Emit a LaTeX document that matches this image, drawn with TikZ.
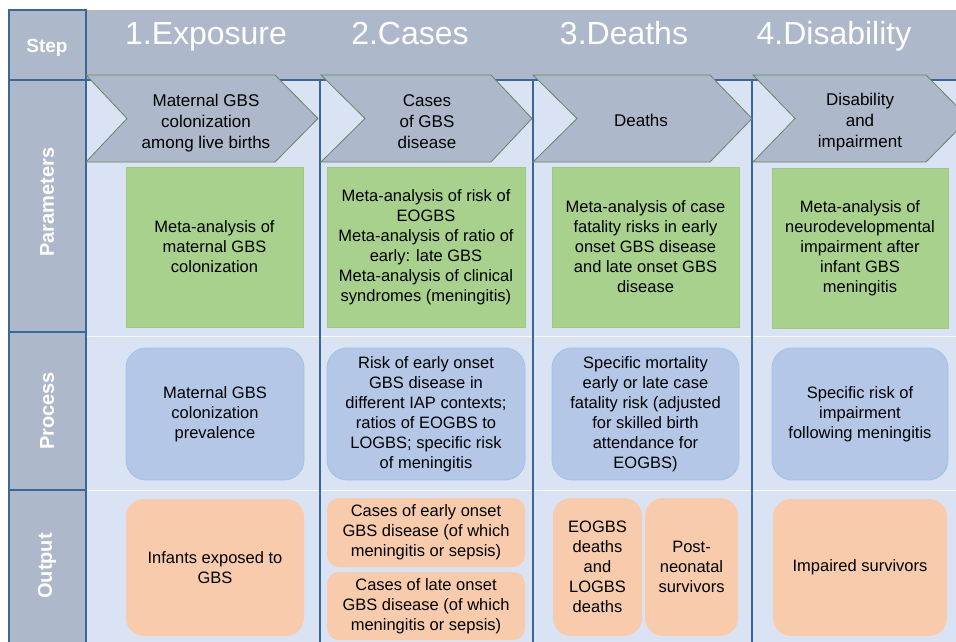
\documentclass[tikz,border=0pt]{standalone}
\usepackage{fontspec}
\setmainfont{Liberation Sans}
\definecolor{hdrgray}{HTML}{ADB9CA}
\definecolor{cellblue}{HTML}{DAE3F3}
\definecolor{darkline}{HTML}{3A6896}
\definecolor{chevline}{HTML}{6A8468}
\definecolor{greenfill}{HTML}{A9D18E}
\definecolor{greenline}{HTML}{9CCB7E}
\definecolor{bluefill}{HTML}{B4C7E7}
\definecolor{blueline}{HTML}{9DC3E6}
\definecolor{orangefill}{HTML}{F8CBAD}
\tikzset{
  bodytxt/.style={font=\fontsize{16.5}{20}\selectfont, align=center, text=black, inner sep=0pt},
  chevtxt/.style={font=\fontsize{17}{21}\selectfont, align=center, text=black, inner sep=0pt},
  greenbox/.style={bodytxt, draw=greenline, fill=greenfill, line width=0.8pt},
  bluebox/.style={bodytxt, draw=blueline, fill=bluefill, rounded corners=20pt, line width=0.8pt},
  orangebox/.style={bodytxt, fill=orangefill, rounded corners=18pt},
  smallorange/.style={bodytxt, fill=orangefill, rounded corners=12pt},
  rowlabel/.style={font=\bfseries\fontsize{20}{24}\selectfont, text=white, rotate=90, inner sep=0pt},
  steplabel/.style={font=\bfseries\fontsize{19}{23}\selectfont, text=white, inner sep=0pt, anchor=base},
  hdrtxt/.style={font=\fontsize{32}{38}\selectfont, text=white, inner sep=0pt, anchor=base},
  chevshape/.style={fill=hdrgray, draw=chevline, line width=0.8pt, line join=miter},
  leftcell/.style={fill=hdrgray, draw=darkline, line width=1.8pt},
  colcell/.style={fill=cellblue, draw=darkline, line width=1.6pt},
}
\begin{document}
\begin{tikzpicture}[x=1pt,y=-1pt]
\useasboundingbox (0,0) rectangle (956,642);
\fill[white] (0,0) rectangle (956,642);
\begin{scope}
\clip (0,0) rectangle (956,642);
% header band
\fill[hdrgray] (86,10) rectangle (960,80);
% column cells
\draw[colcell] (86,80) rectangle (320,660);
\draw[colcell] (320,80) rectangle (533,660);
\draw[colcell] (533,80) rectangle (752,660);
\draw[colcell] (752,80) rectangle (990,660);
% faint row separators
\foreach \yy in {336,490} {
  \draw[white, line width=0.8pt, opacity=0.8] (87,\yy) -- (319,\yy);
  \draw[white, line width=0.8pt, opacity=0.8] (321,\yy) -- (532,\yy);
  \draw[white, line width=0.8pt, opacity=0.8] (534,\yy) -- (751,\yy);
  \draw[white, line width=0.8pt, opacity=0.8] (753,\yy) -- (956,\yy);
}
% left label column
\draw[leftcell] (9,10) rectangle (86,80);
\draw[leftcell] (9,80) rectangle (86,332);
\draw[leftcell] (9,332) rectangle (86,490);
\draw[leftcell] (9,490) rectangle (86,660);
\node[steplabel] (lstep) at (47,53) {Step};
\node[rowlabel] (lparam) at (47,202) {Parameters};
\node[rowlabel] (lproc) at (47,411) {Process};
\node[rowlabel] (lout) at (47,566) {Output};
% header titles
\node[hdrtxt] (h1) at (206,45) {1.Exposure};
\node[hdrtxt] (h2) at (410,45) {2.Cases};
\node[hdrtxt] (h3) at (624,45) {3.Deaths};
\node[hdrtxt] (h4) at (834,45) {4.Disability};
% chevrons
\draw[chevshape] (86,75) -- (275,75) -- (318,118.5) -- (275,162) -- (86,162) -- (127,118.5) -- cycle;
\draw[chevshape] (321,75) -- (491,75) -- (532,118.5) -- (491,162) -- (321,162) -- (365,118.5) -- cycle;
\draw[chevshape] (533,75) -- (710,75) -- (752,118.5) -- (710,162) -- (533,162) -- (577,118.5) -- cycle;
\draw[chevshape] (753,75) -- (926,75) -- (969,118.5) -- (926,162) -- (753,162) -- (795,118.5) -- cycle;
\node[chevtxt] (c1) at (206,123) {Maternal GBS\\colonization\\among live births};
\node[chevtxt] (c2) at (427,122) {Cases\\of GBS\\disease};
\node[chevtxt] (c3) at (641,120) {Deaths};
\node[chevtxt] (c4) at (860,122) {Disability\\and\\impairment};
% parameters
\node[greenbox, minimum width=177, minimum height=160] (p1) at (214.5,247) {Meta-analysis of\\maternal GBS\\colonization};
\node[greenbox, minimum width=198, minimum height=160] (p2) at (426,247) {Meta-analysis of risk of\\EOGBS\\Meta-analysis of ratio of\\early: late GBS\\Meta-analysis of clinical\\syndromes (meningitis)};
\node[greenbox, minimum width=187, minimum height=160] (p3) at (645.5,247) {Meta-analysis of case\\fatality risks in early\\onset GBS disease\\and late onset GBS\\disease};
\node[greenbox, minimum width=176, minimum height=160] (p4) at (860,248) {Meta-analysis of\\neurodevelopmental\\impairment after\\infant GBS\\meningitis};
% process
\node[bluebox, minimum width=178, minimum height=132] (b1) at (215,414) {Maternal GBS\\colonization\\prevalence};
\node[bluebox, minimum width=198, minimum height=132] (b2) at (426,414) {Risk of early onset\\GBS disease in\\different IAP contexts;\\ratios of EOGBS to\\LOGBS; specific risk\\of meningitis};
\node[bluebox, minimum width=187, minimum height=132] (b3) at (645.5,414) {Specific mortality\\early or late case\\fatality risk (adjusted\\for skilled birth\\attendance for\\EOGBS)};
\node[bluebox, minimum width=176, minimum height=132] (b4) at (860,414) {Specific risk of\\impairment\\following meningitis};
% output
\node[orangebox, minimum width=178, minimum height=137] (o1) at (215,567.5) {Infants exposed to\\GBS};
\node[smallorange, minimum width=198, minimum height=69] (o2a) at (426,532.5) {Cases of early onset\\GBS disease (of which\\meningitis or sepsis)};
\node[smallorange, minimum width=198, minimum height=68] (o2b) at (426,606) {Cases of late onset\\GBS disease (of which\\meningitis or sepsis)};
\node[orangebox, minimum width=89, minimum height=138] (o3a) at (597.5,567) {EOGBS\\deaths\\and\\LOGBS\\deaths};
\node[orangebox, minimum width=93, minimum height=138] (o3b) at (691.5,567) {Post-\\neonatal\\survivors};
\node[orangebox, minimum width=174, minimum height=137] (o4) at (860,567.5) {Impaired survivors};
\end{scope}
\end{tikzpicture}
\end{document}
